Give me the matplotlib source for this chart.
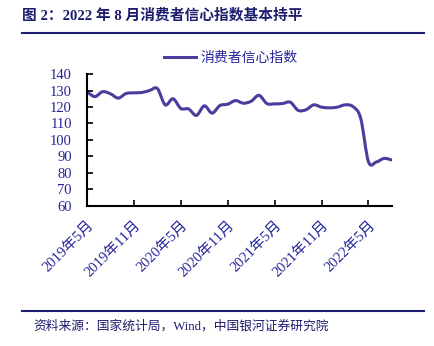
import matplotlib
matplotlib.use("Agg")
import matplotlib.pyplot as plt
import numpy as np
from matplotlib.path import Path
from matplotlib.patches import PathPatch
from matplotlib.lines import Line2D

plt.rcParams['font.family'] = ['Liberation Serif', 'Noto Sans CJK SC']

# monthly consumer confidence index, 2019-05 .. 2022-08
months = ['2019年5月', '2019年11月', '2020年5月', '2020年11月',
          '2021年5月', '2021年11月', '2022年5月']
cci = [129.3, 126.3, 129.3, 128.0, 125.4, 128.2, 128.6, 128.8, 130.0, 131.2,
       121.3, 125.0, 119.1, 118.8, 114.9, 120.7, 116.3, 120.9, 121.7, 123.9,
       122.3, 123.5, 127.1, 122.1, 121.9, 122.1, 122.9, 118.0, 118.3, 121.3,
       119.9, 119.5, 119.9, 121.3, 120.3, 113.3, 86.8, 86.6, 88.8, 87.8]
series_name = '消费者信心指数'

navy = '#1d1d6e'
tick_col = '#25259a'
line_col = '#4a3d9e'


def smooth_path(x, y):
    # Catmull-Rom style bezier through every data point
    x = np.asarray(x, float)
    y = np.asarray(y, float)
    verts = [(x[0], y[0])]
    codes = [Path.MOVETO]
    n = len(x)
    for i in range(n - 1):
        p0 = i - 1 if i > 0 else i
        p3 = i + 2 if i + 2 < n else i + 1
        c1 = (x[i] + (x[i + 1] - x[p0]) / 6, y[i] + (y[i + 1] - y[p0]) / 6)
        c2 = (x[i + 1] - (x[p3] - x[i]) / 6, y[i + 1] - (y[p3] - y[i]) / 6)
        verts += [c1, c2, (x[i + 1], y[i + 1])]
        codes += [Path.CURVE4] * 3
    return Path(verts, codes)


fig = plt.figure(figsize=(4.34, 3.46), dpi=100)
ax = fig.add_axes([0.2005, 0.405, 0.7025, 0.381])

x = np.arange(len(cci))
ax.add_patch(PathPatch(smooth_path(x, cci), facecolor='none',
                       edgecolor=line_col, lw=2.2, capstyle='round'))
ax.set_xlim(0, len(cci) - 1)
ax.set_ylim(60, 140)
ax.set_yticks(range(60, 141, 10))
ax.set_xticks(range(0, len(cci), 6))
ax.set_xticklabels(months, rotation=45, ha='right', rotation_mode='anchor')

for s in ['top', 'right']:
    ax.spines[s].set_visible(False)
for s in ['left', 'bottom']:
    ax.spines[s].set_linewidth(1.5)
ax.tick_params(axis='both', direction='in', length=4, width=1.2,
               labelsize=10.5, labelcolor=tick_col)
ax.tick_params(axis='y', pad=11)
ax.tick_params(axis='x', pad=9)

handle = Line2D([], [], color=line_col, lw=2.2)
fig.legend([handle], [series_name], loc='center',
           bbox_to_anchor=(231 / 434, 1 - 58 / 346), frameon=False,
           fontsize=10, handlelength=2.3, handletextpad=0.35,
           labelcolor=tick_col)

fig.text(22 / 434, 1 - 15 / 346, '图 2：2022 年 8 月消费者信心指数基本持平',
         fontsize=10.6, fontweight='bold', color=navy, va='center', ha='left')
fig.add_artist(Line2D([22 / 434, 424 / 434], [1 - 33 / 346] * 2,
                      color=navy, lw=1.5))
fig.add_artist(Line2D([22 / 434, 424 / 434], [1 - 311 / 346] * 2,
                      color=navy, lw=1.5))
fig.text(33 / 434, 1 - 326 / 346, '资料来源：国家统计局，Wind，中国银河证券研究院',
         fontsize=9.2, color=navy, va='center', ha='left')

fig.savefig('out.png', dpi=100)
